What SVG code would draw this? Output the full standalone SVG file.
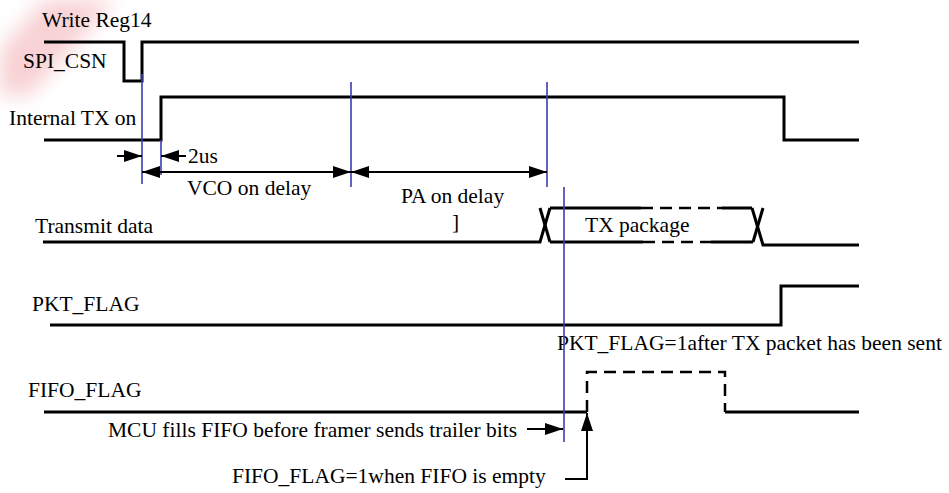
<svg xmlns="http://www.w3.org/2000/svg" width="949" height="493" viewBox="0 0 949 493">
<style>
text{font-family:"Liberation Serif","Times New Roman",serif;font-size:21.5px;fill:#000}
.sig{fill:none;stroke:#000;stroke-width:3}
.dash{fill:none;stroke:#000;stroke-width:2.5;stroke-dasharray:12 7}
.blue{stroke:#3c3cb0;stroke-width:1.6;fill:none}
.dim{stroke:#000;stroke-width:2;fill:none}
</style>
<defs>
<marker id="ah" viewBox="0 0 18 12" refX="18" refY="6" markerWidth="18" markerHeight="12" markerUnits="userSpaceOnUse" orient="auto-start-reverse">
<path d="M0,0 L18,6 L0,12 Z" fill="#000"/>
</marker>
<filter id="blur" x="-50%" y="-50%" width="200%" height="200%"><feGaussianBlur stdDeviation="10"/></filter>
</defs>
<g id="watermark" opacity="0.22" filter="url(#blur)">
<path d="M45,0 L115,0 L30,95 L0,95 L0,50 Z" fill="#e0303a"/>
</g>
<g id="spi_csn">
<text x="42" y="27">Write Reg14</text>
<text x="23" y="68">SPI_CSN</text>
<polyline class="sig" points="44,42 124,42 124,81 142,81 142,42 859,42"/>
</g>
<g id="internal_tx">
<text x="9" y="125">Internal TX on</text>
<polyline class="sig" points="44,140 161,140 161,97 784,97 784,140 859,140"/>
</g>
<g id="transmit_data">
<text x="35" y="233">Transmit data</text>
<polyline class="sig" points="43,242 540,242 550,208"/>
<line class="sig" x1="540" y1="208" x2="550" y2="242"/>
<line class="sig" x1="550" y1="208" x2="641" y2="208"/>
<line class="dash" x1="641" y1="208" x2="722" y2="208"/>
<line class="sig" x1="722" y1="208" x2="752" y2="208"/>
<line class="sig" x1="550" y1="242" x2="643" y2="242"/>
<line class="dash" x1="643" y1="242" x2="711" y2="242"/>
<line class="sig" x1="711" y1="242" x2="753" y2="242"/>
<polyline class="sig" points="752,208 763,245 859,245"/>
<line class="sig" x1="753" y1="242" x2="763" y2="208"/>
<text x="585" y="232">TX package</text>
<text x="452" y="229">]</text>
</g>
<g id="pkt_flag">
<text x="32" y="311">PKT_FLAG</text>
<polyline class="sig" points="50,325 781,325 781,286 859,286"/>
<text x="557" y="350">PKT_FLAG=1after TX packet has been sent</text>
</g>
<g id="fifo_flag">
<text x="28" y="397">FIFO_FLAG</text>
<polyline class="sig" points="44,412 587,412"/>
<polyline class="dash" points="587,412 587,372 725,372 725,412"/>
<polyline class="sig" points="725,412 859,412"/>
<text x="108" y="437">MCU fills FIFO before framer sends trailer bits</text>
<text x="232" y="483">FIFO_FLAG=1when FIFO is empty</text>
</g>
<g id="connectors">
<line class="blue" x1="142" y1="74" x2="142" y2="184"/>
<line class="blue" x1="161" y1="140" x2="161" y2="175"/>
<line class="blue" x1="351" y1="82" x2="351" y2="187"/>
<line class="blue" x1="547" y1="82" x2="547" y2="187"/>
<line class="blue" x1="564" y1="187" x2="564" y2="442"/>
<line class="dim" x1="117" y1="156" x2="142" y2="156" marker-end="url(#ah)"/>
<line class="dim" x1="186" y1="156" x2="161" y2="156" marker-end="url(#ah)"/>
<text x="188" y="163">2us</text>
<line class="dim" x1="142" y1="172" x2="351" y2="172" marker-start="url(#ah)" marker-end="url(#ah)"/>
<line class="dim" x1="351" y1="172" x2="547" y2="172" marker-start="url(#ah)" marker-end="url(#ah)"/>
<text x="187" y="195">VCO on delay</text>
<text x="401" y="203">PA on delay</text>
<line class="dim" x1="527" y1="429" x2="563" y2="429" marker-end="url(#ah)"/>
<polyline class="dim" points="565,479 587,479 587,413" marker-end="url(#ah)"/>
</g>
</svg>
